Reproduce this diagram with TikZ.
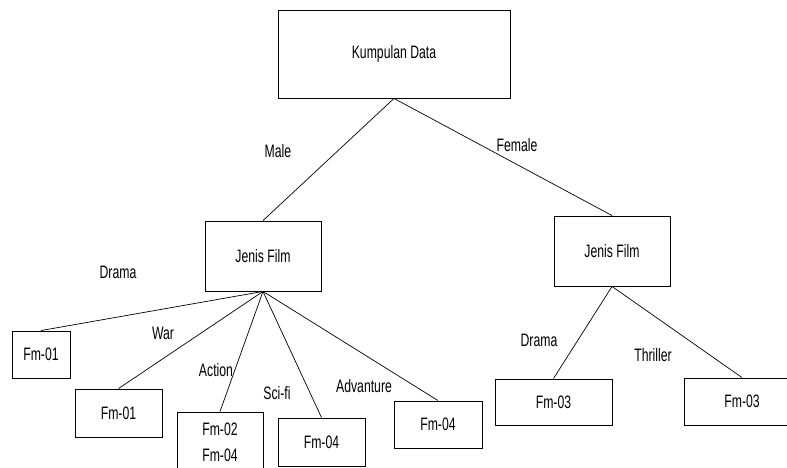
\documentclass[tikz,border=0pt]{standalone}
\usepackage{fontspec}
\setmainfont[FakeStretch=0.68]{Liberation Sans}
\tikzset{
  kotak/.style={draw, line width=0.9pt, inner sep=0pt, font=\fontsize{18}{26}\selectfont},
  label/.style={inner sep=0pt, font=\fontsize{18}{22}\selectfont},
  garis/.style={line width=0.7pt}
}

\begin{document}
\begin{tikzpicture}[x=1pt,y=-1pt]
    \clip (0,0) rectangle (787,468);
    % kotak
    \node[kotak, minimum width=232pt, minimum height=88pt] (data) at (394,54) {Kumpulan Data};
    \node[kotak, minimum width=116pt, minimum height=70pt] (jenisM) at (263,256) {Jenis Film};
    \node[kotak, minimum width=116pt, minimum height=70pt] (jenisF) at (612,251) {Jenis Film};
    \node[kotak, minimum width=58pt, minimum height=47pt] (fmDrama) at (41,354.5) {Fm-01};
    \node[kotak, minimum width=87pt, minimum height=48pt] (fmWar) at (118.5,413) {Fm-01};
    \node[kotak, minimum width=86pt, minimum height=60pt, align=center] (fmAction) at (220,442) {Fm-02\\Fm-04};
    \node[kotak, minimum width=87pt, minimum height=48pt] (fmScifi) at (321.5,442) {Fm-04};
    \node[kotak, minimum width=88pt, minimum height=47pt] (fmAdv) at (438,424.5) {Fm-04};
    \node[kotak, minimum width=117pt, minimum height=46pt] (fmDramaF) at (553.5,402) {Fm-03};
    \node[kotak, minimum width=116pt, minimum height=47pt] (fmThriller) at (742,401.5) {Fm-03};
    % garis
    \draw[garis] (data.south) -- (jenisM.north);
    \draw[garis] (data.south) -- (jenisF.north);
    \draw[garis] (jenisM.south) -- (fmDrama.north);
    \draw[garis] (jenisM.south) -- (fmWar.north);
    \draw[garis] (jenisM.south) -- (fmAction.north);
    \draw[garis] (jenisM.south) -- (fmScifi.north);
    \draw[garis] (jenisM.south) -- (fmAdv.north);
    \draw[garis] (jenisF.south) -- (fmDramaF.north);
    \draw[garis] (jenisF.south) -- (fmThriller.north);
    % label
    \node[label] (lMale) at (278,151) {Male};
    \node[label] (lFemale) at (517,145) {Female};
    \node[label] (lDrama) at (118,272) {Drama};
    \node[label] (lWar) at (163,333) {War};
    \node[label] (lAction) at (216,370) {Action};
    \node[label] (lScifi) at (277,393) {Sci-fi};
    \node[label] (lAdv) at (364,386) {Advanture};
    \node[label] (lDramaF) at (539,340) {Drama};
    \node[label] (lThriller) at (653,355) {Thriller};
\end{tikzpicture}
\end{document}
